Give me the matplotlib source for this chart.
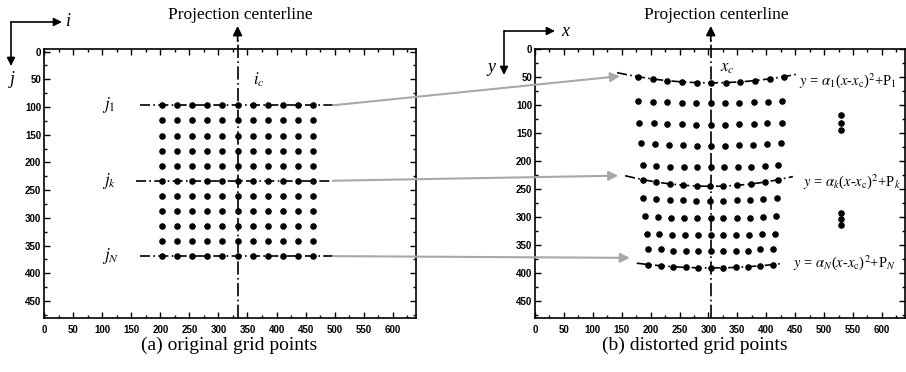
import numpy as np
import matplotlib.pyplot as plt
from matplotlib.patches import ConnectionPatch, FancyArrowPatch
from matplotlib.ticker import MultipleLocator

plt.rcParams['font.family'] = ['Liberation Serif', 'DejaVu Serif']
plt.rcParams['mathtext.fontset'] = 'stix'

# ---------------------------------------------------------------------------
# data

# (a) original grid: column i and row j positions (pixels)
grid_i = [203, 229, 255, 281, 307, 333, 359, 385, 411, 437, 463]
grid_j = [97, 124, 152, 179, 206, 233, 260, 288, 315, 342, 369]
i_c = 333
ref_rows = [97, 233, 369]           # j_1, j_k, j_N
ref_names = [r'$j_1$', r'$j_k$', r'$j_N$']

# (b) distorted grid, one list per row
dist_x = [
    [179, 204, 229, 255, 280, 305, 330, 355, 381, 406, 431],
    [179, 204, 229, 254, 279, 304, 328, 353, 378, 403, 428],
    [180, 205, 229, 254, 279, 304, 328, 353, 378, 402, 427],
    [184, 208, 232, 256, 280, 305, 329, 353, 377, 401, 425],
    [187, 210, 234, 257, 281, 304, 327, 351, 374, 398, 421],
    [186, 209, 233, 256, 280, 303, 326, 350, 373, 397, 420],
    [187, 210, 233, 256, 279, 303, 326, 349, 372, 395, 418],
    [190, 213, 235, 258, 281, 304, 326, 349, 372, 394, 417],
    [193, 215, 237, 260, 282, 304, 326, 348, 371, 393, 415],
    [196, 218, 239, 261, 282, 304, 326, 347, 369, 390, 412],
    [196, 218, 239, 261, 282, 304, 326, 347, 369, 390, 412],
]
dist_y = [
    [49, 53, 56, 58, 60, 60, 60, 58, 56, 53, 49],
    [93, 94, 95, 96, 96, 96, 96, 96, 95, 94, 93],
    [131, 132, 134, 134, 135, 135, 135, 134, 134, 132, 131],
    [168, 170, 171, 172, 173, 173, 173, 172, 171, 170, 168],
    [207, 208, 210, 210, 211, 211, 211, 210, 210, 208, 207],
    [233, 237, 241, 243, 245, 245, 245, 243, 241, 237, 233],
    [266, 268, 269, 270, 271, 271, 271, 270, 269, 268, 266],
    [299, 300, 301, 302, 302, 302, 302, 302, 301, 300, 299],
    [330, 331, 332, 333, 333, 333, 333, 333, 332, 331, 330],
    [357, 358, 360, 360, 361, 361, 361, 360, 360, 358, 357],
    [385, 387, 389, 390, 391, 391, 391, 390, 389, 387, 385],
]
x_c = 304
# fitted parabolas y = alpha (x - x_c)^2 + P for rows 1, k, N
alpha = [-0.000693, -0.000862, -0.000514]
P = [60, 245, 391]
curve_start = [142, 156, 176]
curve_end = [455, 446, 429]
eq_labels = [r'$y$ = $\alpha_1$($x$-$x_{\rm c}$)$^2$+P$_1$',
             r'$y$ = $\alpha_k$($x$-$x_{\rm c}$)$^2$+P$_k$',
             r'$y$ = $\alpha_N$($x$-$x_{\rm c}$)$^2$+P$_N$']
eq_pos = [(457, 55), (463, 236), (446, 382)]
vdots_x = [529, 529]
vdots_y = [[117, 132, 145], [292, 304, 315]]
# grey arrow targets in panel (b)
arrow_to = [(147, 48), (144, 226), (164, 373)]
row_line_start = [165, 159, 165]
row_line_end = 497

# ---------------------------------------------------------------------------

fig = plt.figure(figsize=(9.06, 3.72), dpi=100)
ax1 = fig.add_axes([0.0486, 0.146, 0.4106, 0.7215])
ax2 = fig.add_axes([0.5905, 0.146, 0.4084, 0.7215])

dashdot = (0, (6, 2, 1, 2))

for ax, ytop in [(ax1, -4), (ax2, 0)]:
    ax.set_xlim(0, 640)
    ax.set_ylim(480, ytop)
    ax.xaxis.set_major_locator(MultipleLocator(50))
    ax.yaxis.set_major_locator(MultipleLocator(50))
    ax.xaxis.set_minor_locator(MultipleLocator(25))
    ax.yaxis.set_minor_locator(MultipleLocator(25))
    ax.tick_params(which='both', direction='in', top=True, right=True, width=1)
    ax.tick_params(which='major', length=4)
    ax.tick_params(which='minor', length=2)
    ax.tick_params(axis='x', pad=5)
    ax.tick_params(axis='y', pad=2)
    ax.set_yticks(range(0, 451, 50))
    for lab in ax.get_xticklabels() + ax.get_yticklabels():
        lab.set_fontfamily('Liberation Sans')
        lab.set_fontweight('bold')
        lab.set_fontsize(7)
    for s in ax.spines.values():
        s.set_linewidth(1.2)

# panel (a)
gi, gj = np.meshgrid(grid_i, grid_j)
ax1.scatter(gi.ravel(), gj.ravel(), s=14, color='black', zorder=3)
for r, x0, name in zip(ref_rows, row_line_start, ref_names):
    ax1.plot([x0, row_line_end], [r, r], color='black', lw=1.2, linestyle=dashdot)
    ax1.text(100, r, name, fontsize=12, ha='left', va='center')
ax1.text(359, 51, r'$i_c$', fontsize=12, ha='left', va='center')

# panel (b)
for xs, ys in zip(dist_x, dist_y):
    ax2.scatter(xs, ys, s=14, color='black', zorder=3)
for a, p, x0, x1 in zip(alpha, P, curve_start, curve_end):
    xx = np.linspace(x0, x1, 200)
    ax2.plot(xx, a * (xx - x_c) ** 2 + p, color='black', lw=1.2, linestyle=dashdot)
for lab, (ex, ey) in zip(eq_labels, eq_pos):
    ax2.text(ex, ey, lab, fontsize=10.5, ha='left', va='center')
for vx, vys in zip(vdots_x, vdots_y):
    ax2.scatter([vx] * len(vys), vys, s=14, color='black')
ax2.text(320, 33, r'$x_c$', fontsize=12, ha='left', va='center')

# projection centerlines with arrow heads above the axes
for ax, xc in [(ax1, i_c), (ax2, x_c)]:
    tr = ax.get_xaxis_transform()
    ax.plot([xc, xc], [0, 1.05], transform=tr, color='black', lw=1.2,
            linestyle=(0, (8, 2, 1, 2)), clip_on=False)
    ax.annotate('', xy=(xc, 1.087), xycoords=tr, xytext=(xc, 1.03), textcoords=tr,
                arrowprops=dict(arrowstyle='-|>', color='black', lw=1.2,
                                mutation_scale=14, shrinkA=0, shrinkB=0))

fig.text(240 / 906, 1 - 15 / 372, 'Projection centerline', fontsize=12.5,
         ha='center', va='center')
fig.text(716 / 906, 1 - 15 / 372, 'Projection centerline', fontsize=12.5,
         ha='center', va='center')

# grey arrows linking rows of (a) to curves of (b)
for r, (tx, ty) in zip(ref_rows, arrow_to):
    con = ConnectionPatch(xyA=(row_line_end, r), coordsA=ax1.transData,
                          xyB=(tx, ty), coordsB=ax2.transData,
                          arrowstyle='-|>', color='#a8a8a8', lw=1.5,
                          mutation_scale=14, shrinkA=0, shrinkB=0, zorder=5)
    fig.add_artist(con)

# coordinate symbols
def corner(x0, y0, x1, y2, hname, vname, hpos, vpos):
    for xe, ye in [(x1, y0), (x0, y2)]:
        fig.add_artist(FancyArrowPatch(
            (x0 / 906, 1 - y0 / 372), (xe / 906, 1 - ye / 372),
            transform=fig.transFigure, arrowstyle='-|>', color='black',
            lw=1.2, mutation_scale=12, shrinkA=0, shrinkB=0))
    fig.text(hpos[0] / 906, 1 - hpos[1] / 372, hname, fontsize=13,
             style='italic', ha='left', va='center')
    fig.text(vpos[0] / 906, 1 - vpos[1] / 372, vname, fontsize=13,
             style='italic', ha='center', va='center')

corner(11, 22, 62, 66, 'i', 'j', (66, 22), (12, 80))
corner(504, 31, 555, 75, 'x', 'y', (561, 31), (491, 68))

fig.text(229 / 906, 1 - 345 / 372, '(a) original grid points', fontsize=14,
         ha='center', va='center')
fig.text(695 / 906, 1 - 345 / 372, '(b) distorted grid points', fontsize=14,
         ha='center', va='center')

fig.savefig('out.png', dpi=100)
